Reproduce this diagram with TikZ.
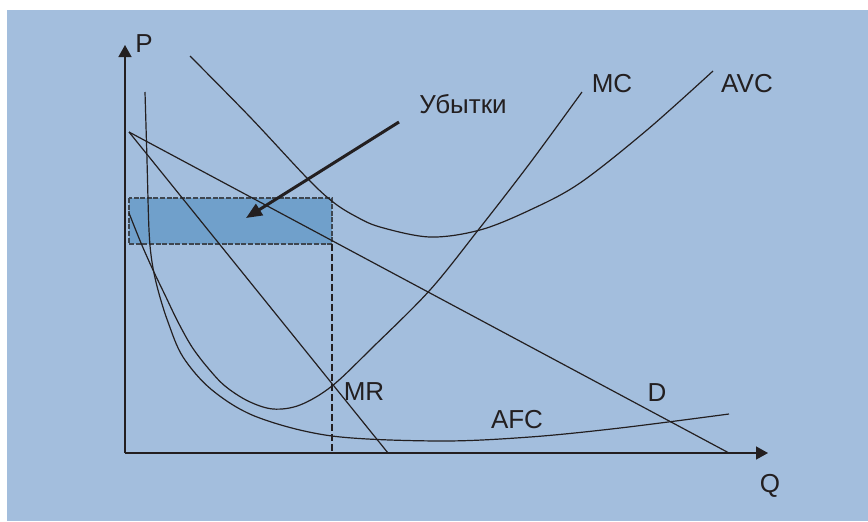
\documentclass[tikz,border=0pt]{standalone}
\usepackage{fontspec}
\setmainfont{Liberation Sans}
\usetikzlibrary{arrows.meta}
\definecolor{bgblue}{RGB}{163,190,221}
\definecolor{lossblue}{RGB}{112,160,203}
\definecolor{rimgray}{RGB}{62,70,80}
\definecolor{ink}{RGB}{35,31,32}

\begin{document}
\begin{tikzpicture}[x=0.5pt,y=-0.5pt]
	\tikzstyle{curve} = [line width=0.6pt, ink]
	\tikzstyle{axis} = [line width=0.75pt, ink, -{Triangle[length=6pt,width=6.5pt]}]
	\tikzstyle{lbl} = [font=\fontsize{13}{15}\selectfont, text=ink, inner sep=0pt, anchor=base]

	\useasboundingbox (0,0) rectangle (868,521);
	\fill[white] (0,0) rectangle (868,521);
	\fill[bgblue] (7,10) rectangle (868,521);

	\coordinate (O) at (125,453);
	\coordinate (Ptop) at (125,45);
	\coordinate (Qend) at (768,453);
	\coordinate (lossTL) at (129,198);
	\coordinate (lossBR) at (332,244);
	\coordinate (lossFoot) at (332,453);
	\coordinate (arrowFrom) at (399,122);
	\coordinate (arrowTo) at (246,218);
	\coordinate (dTop) at (129,132);
	\coordinate (dEnd) at (729,453);
	\coordinate (mrEnd) at (388,453);

	\fill[lossblue] (lossTL) rectangle (lossBR);
	\draw[rimgray, line width=1pt, dash pattern=on 2.5pt off 0.8pt] (lossTL) rectangle (lossBR);
	\draw[ink, line width=1.3pt, dash pattern=on 3.5pt off 1.5pt] (lossBR) -- (lossFoot);

	\draw[axis] (O) -- (Ptop);
	\draw[axis] (O) -- (Qend);

	\draw[curve] (dTop) -- (dEnd);
	\draw[curve] (dTop) -- (mrEnd);
	\draw[curve] plot[smooth, tension=0.55] coordinates {(145,92) (147,160) (149,230) (152,262) (158,290) (168,322) (183,357) (212,390) (257,417) (332,436) (440,441) (530,437) (620,428) (729,414)};
	\draw[curve] plot[smooth, tension=0.55] coordinates {(129,213) (141,243) (153,270) (165,295) (178,322) (192,347) (208,368) (225,386) (248,401) (273,409) (300,405) (332,386) (373,347) (430,290) (479,229) (530,163) (582,92)};
	\draw[curve] plot[smooth, tension=0.55] coordinates {(190,56) (250,117) (307,178) (333,202) (355,216) (380,227) (430,237) (480,230) (530,210) (580,183) (647,130) (713,71)};

	\draw[ink, line width=1.5pt, -{Triangle[length=8pt,width=6.5pt]}] (arrowFrom) -- (arrowTo);

	\node[lbl] (pLabel) at (144,52) {P};
	\node[lbl] (qLabel) at (770,492) {Q};
	\node[lbl] (mcLabel) at (612,92) {MC};
	\node[lbl] (avcLabel) at (747,92) {AVC};
	\node[lbl] (lossLabel) at (463,113) {Убытки};
	\node[lbl] (mrLabel) at (364,400) {MR};
	\node[lbl] (dLabel) at (657,401) {D};
	\node[lbl] (afcLabel) at (517,428) {AFC};
\end{tikzpicture}
\end{document}
